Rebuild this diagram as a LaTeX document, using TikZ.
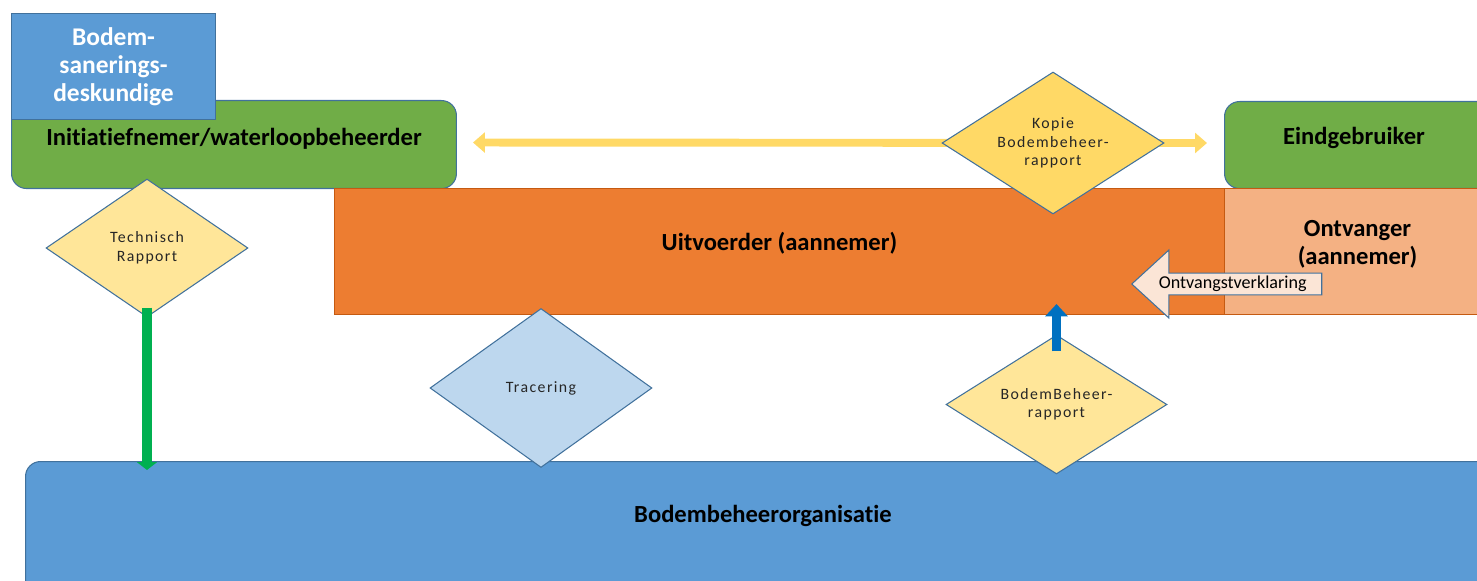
\documentclass[tikz,border=0pt]{standalone}
\usepackage{fontspec}
\setmainfont{Carlito}[Ligatures=NoCommon]
\newfontfamily\choicefont{Carlito}[Ligatures=NoCommon, LetterSpace=9]
\usetikzlibrary{shapes.geometric, shapes.arrows, arrows.meta}

\definecolor{edgeblue}{HTML}{41719C}
\definecolor{boxgreen}{HTML}{70AD47}
\definecolor{boxblue}{HTML}{5B9BD5}
\definecolor{boxorange}{HTML}{ED7D31}
\definecolor{edgeorange}{HTML}{C55A11}
\definecolor{lightorange}{HTML}{F4B183}
\definecolor{paleyellow}{HTML}{FFE699}
\definecolor{goldyellow}{HTML}{FFD966}
\definecolor{paleblue}{HTML}{BDD7EE}
\definecolor{palepeach}{HTML}{FBE5D6}
\definecolor{arrowgreen}{HTML}{00B050}
\definecolor{arrowblue}{HTML}{0070C0}

\tikzset{
    box/.style={draw=edgeblue, line width=0.6pt, inner sep=0pt, align=center,
        font=\bfseries\fontsize{14}{16}\selectfont},
    title/.style={align=center, font=\bfseries\fontsize{14}{16}\selectfont},
    raise/.style={text depth=#1},
    choice/.style={diamond, aspect=1.55, draw=edgeblue, line width=0.6pt, inner sep=0pt, align=center,
        text=black!85, font=\choicefont\fontsize{9}{10.5}\selectfont},
    flow/.style={line width=#1},
}

\begin{document}
\begin{tikzpicture}[x=0.02cm, y=-0.02cm]
    \clip (0,0) rectangle (1477,581);

    % Boxes
    \node[box, raise=8.5pt, fill=boxgreen, rounded corners=0.3cm, minimum width=8.9cm, minimum height=1.76cm, anchor=north west]
        (init) at (11,100) {Initiatiefnemer/waterloopbeheerder};
    \node[box, fill=boxblue, text=white, font=\bfseries\fontsize{14.5}{16}\selectfont,
        minimum width=4.08cm, minimum height=2.12cm, anchor=north west]
        (bsd) at (11,13) {Bodem-\\sanerings-\\deskundige};
    \node[box, fill=boxgreen, rounded corners=0.3cm, minimum width=6cm, minimum height=1.74cm, anchor=north west]
        (eind) at (1224,101) {};
    \node[title] (eindtext) at (1354,138) {Eindgebruiker};
    \node[box, raise=12pt, draw=edgeorange, fill=boxorange, minimum width=17.8cm, minimum height=2.52cm, anchor=north west]
        (uit) at (334,188) {Uitvoerder (aannemer)};
    \node[box, raise=10.4pt, draw=edgeorange, fill=lightorange, minimum width=5.32cm, minimum height=2.52cm, anchor=north west]
        (ontvanger) at (1224,188) {Ontvanger\\(aannemer)};
    \node[box, fill=boxblue, rounded corners=0.3cm, minimum width=30cm, minimum height=3cm, anchor=north west]
        (bbo) at (25,461) {};
    \node[title] (bbotext) at (763,516) {Bodembeheerorganisatie};

    % Copy of the report to the end user
    \draw[goldyellow, line width=4.5pt, {Triangle[width=11.3pt, length=6.8pt]}-{Triangle[width=11.3pt, length=6.8pt]},
        shorten <=0.32cm, shorten >=0.34cm] ([yshift=0.04cm]init.east) -- ([yshift=0.04cm]eind.west);

    % Decisions
    \node[choice, fill=paleyellow, minimum width=4.04cm, minimum height=2.76cm] (tech) at (147,248) {Technisch\\Rapport};
    \node[choice, fill=paleblue, minimum width=4.44cm, minimum height=3.18cm] (trac) at (541,388) {Tracering};
    \node[choice, fill=goldyellow, minimum width=4.44cm, minimum height=2.84cm] (kopie) at (1053,143) {Kopie\\Bodembeheer-\\rapport};
    \node[choice, fill=paleyellow, minimum width=4.42cm, minimum height=2.78cm] (bbr) at (1056.5,404.5) {BodemBeheer-\\rapport};

    % Flows
    \draw[arrowgreen, flow=5.7pt, -{Triangle[width=11.3pt, length=4.5pt]}]
        ([yshift=0.2cm]tech.south) -- ([yshift=-0.18cm]tech.south |- bbo.north);
    \draw[arrowblue, flow=5.1pt, -{Triangle[width=12.5pt, length=7pt]}]
        ([yshift=-0.34cm]bbr.north) -- ([yshift=0.22cm]bbr.north |- uit.south);

    % Receipt
    \node[single arrow, shape border rotate=180, draw=edgeblue, line width=0.6pt, fill=palepeach,
        single arrow head extend=0.36cm, single arrow tip angle=85, inner sep=0pt,
        minimum width=1.36cm, minimum height=3.8cm, anchor=tip, font=\fontsize{10.3}{12}\selectfont]
        (ontv) at (1131,284) {Ontvangstverklaring};
\end{tikzpicture}
\end{document}
